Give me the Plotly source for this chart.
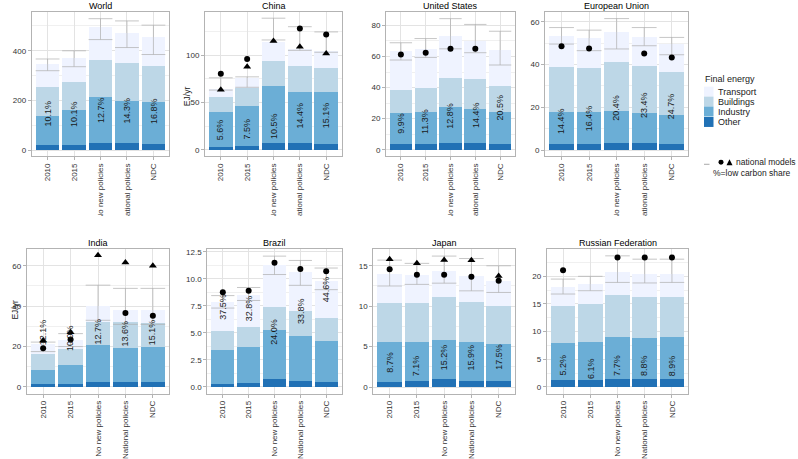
import plotly.graph_objects as go

# ---------------- data ----------------
categories = ["2010", "2015", "No new policies", "National policies", "NDC"]
regions = ["World", "China", "United States", "European Union",
           "India", "Brazil", "Japan", "Russian Federation"]
sectors = ["Other", "Industry", "Buildings", "Transport"]

# final energy by sector (EJ/yr), per region, order = categories
other = {
    "World": [20, 23, 31, 28, 25],
    "China": [3.2, 4.2, 7.0, 7.0, 5.9],
    "United States": [3.4, 3.4, 4.5, 4.1, 3.6],
    "European Union": [3.0, 3.0, 3.3, 3.4, 3.0],
    "India": [1.2, 1.3, 2.5, 2.5, 2.2],
    "Brazil": [0.31, 0.40, 0.74, 0.52, 0.46],
    "Japan": [0.62, 0.78, 0.95, 0.78, 0.78],
    "Russian Federation": [1.2, 1.2, 1.4, 1.4, 1.4],
}
industry = {
    "World": [120, 138, 182, 171, 168],
    "China": [36.4, 42.4, 60.7, 54.4, 55.5],
    "United States": [20.2, 20.7, 22.8, 22.1, 20.5],
    "European Union": [15.0, 14.7, 15.2, 13.8, 13.5],
    "India": [7.0, 9.4, 18.5, 16.7, 17.4],
    "Brazil": [3.13, 3.26, 4.55, 4.18, 3.81],
    "Japan": [4.92, 4.76, 4.88, 4.76, 4.52],
    "Russian Federation": [6.7, 7.0, 7.7, 7.5, 7.6],
}
buildings = {
    "World": [116, 115, 151, 153, 147],
    "China": [16.4, 18.3, 26.0, 27.3, 25.2],
    "United States": [15.0, 15.5, 19.1, 19.1, 17.0],
    "European Union": [20.7, 20.5, 22.5, 22.1, 20.2],
    "India": [8.2, 7.9, 11.0, 12.8, 12.3],
    "Brazil": [1.72, 1.87, 2.14, 2.36, 2.15],
    "Japan": [4.86, 4.86, 5.25, 5.01, 4.76],
    "Russian Federation": [6.8, 6.8, 7.6, 7.4, 7.3],
}
transport = {
    "World": [92, 96, 132, 121, 116],
    "China": [7.8, 10.5, 20.3, 17.6, 17.6],
    "United States": [24.9, 24.9, 26.8, 24.7, 23.0],
    "European Union": [14.7, 14.0, 14.3, 13.4, 12.7],
    "India": [5.0, 4.4, 8.2, 6.3, 6.4],
    "Brazil": [2.73, 2.97, 3.84, 3.54, 3.38],
    "Japan": [3.56, 3.44, 3.29, 3.20, 3.08],
    "Russian Federation": [3.4, 3.6, 4.1, 4.1, 4.1],
}
# range across models (EJ/yr)
range_low = {
    "World": [320, 336, 445, 413, 385],
    "China": [63, 66, 116, 105, 103],
    "United States": [57.7, 59.4, 64.9, 62.4, 54.5],
    "European Union": [49.6, 46.5, 47.3, 48.8, 44.6],
    "India": [17.5, 20, 33, 31, 31],
    "Brazil": [7.3, 8.0, 10.4, 9.4, 9.0],
    "Japan": [12.5, 12.7, 12.85, 11.9, 11.7],
    "Russian Federation": [16.8, 17.4, 18.9, 18.8, 18.9],
}
range_high = {
    "World": [367, 400, 529, 520, 503],
    "China": [76, 77, 139, 130, 124.5],
    "United States": [68.8, 71.5, 84.3, 80.6, 76.2],
    "European Union": [57.3, 56.1, 61.5, 57.3, 52.7],
    "India": [22.2, 26.4, 50.4, 48.8, 48.8],
    "Brazil": [8.45, 9.2, 12.1, 11.7, 11.0],
    "Japan": [15.7, 15.3, 16.2, 15.9, 15.0],
    "Russian Federation": [19.5, 20.0, 23.7, 23.1, 23.1],
}
# national models (circle / triangle)
national_circle = {
    "World": [None] * 5,
    "China": [80.3, 95.8, None, 128, 121.7],
    "United States": [61.3, 62.4, 64.9, 64.9, None],
    "European Union": [48.6, 47.5, None, 45.2, 43.3],
    "India": [19.2, 23.5, None, 36.6, 35.3],
    "Brazil": [8.75, 8.9, 11.5, 10.9, 10.7],
    "Japan": [14.58, 13.88, 13.88, 13.63, 13.14],
    "Russian Federation": [21.1, None, 23.4, 23.4, 23.4],
}
national_triangle = {
    "World": [None] * 5,
    "China": [63.5, 87.7, 115, 108.7, 101.7],
    "United States": [None] * 5,
    "European Union": [None] * 5,
    "India": [23, 27.1, 65.2, 61.6, 60],
    "Brazil": [None] * 5,
    "Japan": [15.81, 15.32, 15.73, 15.69, 13.75],
    "Russian Federation": [None] * 5,
}
# low carbon share (%)
low_carbon_share = {
    "World": [10.1, 10.1, 12.7, 14.3, 16.8],
    "China": [5.6, 7.5, 10.5, 14.4, 15.1],
    "United States": [9.9, 11.3, 12.8, 14.4, 20.5],
    "European Union": [14.4, 16.4, 20.4, 23.4, 24.7],
    "India": [12.1, 10.0, 12.7, 13.6, 15.1],
    "Brazil": [37.5, 32.8, 24.0, 33.8, 44.6],
    "Japan": [8.7, 7.1, 15.2, 15.9, 17.5],
    "Russian Federation": [5.2, 6.1, 7.7, 8.8, 8.9],
}

# ---------------- layout helpers (positions / styles) ----------------
W, H = 798, 459
def px(x): return x / W
def py(y): return 1 - y / H

panel_px = {  # left, right, top, bottom in pixels
    "World": (31.7, 169.3, 10, 155),
    "China": (205, 342, 10, 155),
    "United States": (386, 515, 10, 155),
    "European Union": (545, 688.3, 10, 155),
    "India": (26.7, 169.3, 248.3, 393.3),
    "Brazil": (207.3, 341.7, 248.3, 393.3),
    "Japan": (373.3, 515, 248.3, 393.3),
    "Russian Federation": (546.7, 688.3, 248.3, 393.3),
}
y_ranges = {
    "World": [-24, 556], "China": [-7, 145.6], "United States": [-4.2, 88.6],
    "European Union": [-2.9, 64.6], "India": [-3.3, 68.2], "Brazil": [-0.61, 12.74],
    "Japan": [-0.81, 17.05], "Russian Federation": [-1.2, 24.9],
}
y_ticks = {
    "World": ([0, 200, 400], 100), "China": ([0, 50, 100], 25),
    "United States": ([0, 20, 40, 60, 80], 10), "European Union": ([0, 20, 40, 60], 10),
    "India": ([0, 20, 40, 60], 10), "Brazil": ([0, 2.5, 5, 7.5, 10, 12.5], 1.25),
    "Japan": ([0, 5, 10, 15], 2.5), "Russian Federation": ([0, 5, 10, 15, 20], 2.5),
}
label_y = {
    "World": [146, 146, 160, 160, 160],
    "China": [21.4, 21.4, 24.5, 36, 36.6],
    "United States": [17.3, 18.3, 21.5, 22.6, 27.3],
    "European Union": [13.4, 14.9, 19.6, 21.2, 20.4],
    "India": [27.2, 24, 27.4, 26.7, 27],
    "Brazil": [7.4, 7.25, 5.07, 7.06, 9.06],
    "Japan": [3.08, 2.67, 3.7, 3.7, 3.7],
    "Russian Federation": [3.9, 3.3, 3.9, 3.9, 3.9],
}
colors = {"Other": "#2171b5", "Industry": "#6baed6",
          "Buildings": "#bdd7e7", "Transport": "#eff3ff"}
series = {"Other": other, "Industry": industry, "Buildings": buildings, "Transport": transport}
FONT = "Liberation Sans, Arial, Helvetica, sans-serif"
GRID = "#e3e3e3"
BORDER = "#b3b3b3"

fig = go.Figure()
layout = dict(
    width=W, height=H, margin=dict(l=0, r=0, t=0, b=0),
    paper_bgcolor="white", plot_bgcolor="white",
    barmode="stack", bargap=0.1, showlegend=False,
    font=dict(family=FONT, size=9, color="#1a1a1a"),
)
annotations = []
shapes = []

for i, reg in enumerate(regions):
    n = i + 1
    xa, ya = f"x{n}", f"y{n}"
    l, r, t, b = panel_px[reg]
    for s in sectors:
        fig.add_trace(go.Bar(
            x=categories, y=series[s][reg], name=s, marker=dict(color=colors[s], line=dict(width=0)),
            xaxis=xa, yaxis=ya, hoverinfo="skip"))
    lo = range_low[reg]; hi = range_high[reg]
    unit_px = (r - l) / 5.2
    fig.add_trace(go.Scatter(
        x=categories, y=lo, mode="markers",
        marker=dict(size=1, color="rgba(0,0,0,0)"),
        error_y=dict(type="data", symmetric=False,
                     array=[h - v for h, v in zip(hi, lo)], arrayminus=[0] * 5,
                     color="#adadad", thickness=0.7, width=0.45 * unit_px),
        xaxis=xa, yaxis=ya, hoverinfo="skip"))
    fig.add_trace(go.Scatter(
        x=categories, y=national_circle[reg], mode="markers",
        marker=dict(symbol="circle", size=6, color="black"),
        xaxis=xa, yaxis=ya, hoverinfo="skip"))
    fig.add_trace(go.Scatter(
        x=categories, y=national_triangle[reg], mode="markers",
        marker=dict(symbol="triangle-up", size=7, color="black"),
        xaxis=xa, yaxis=ya, hoverinfo="skip"))

    ticks, minor_step = y_ticks[reg]
    rng = y_ranges[reg]
    minor_vals = []
    v = ticks[0] + minor_step
    while v < rng[1]:
        minor_vals.append(v)
        v += 2 * minor_step
    tick_text = [f"{tv:.1f}" if reg == "Brazil" else f"{tv:g}" for tv in ticks]
    layout[f"xaxis{n}"] = dict(
        domain=[px(l), px(r)], anchor=ya, type="category",
        categoryorder="array", categoryarray=categories, range=[-0.6, 4.6],
        tickangle=-90, tickfont=dict(size=8, color="#333333"),
        showgrid=True, gridcolor=GRID, gridwidth=0.6,
        showline=True, linecolor=BORDER, linewidth=1, mirror=True,
        ticks="outside", ticklen=3, tickcolor=BORDER, zeroline=False,
    )
    layout[f"yaxis{n}"] = dict(
        domain=[py(b), py(t)], anchor=xa, range=rng,
        tickvals=ticks, ticktext=tick_text, tickfont=dict(size=8, color="#333333"),
        showgrid=True, gridcolor=GRID, gridwidth=0.6,
        minor=dict(tickvals=minor_vals, showgrid=True, gridcolor="#f0f0f0", gridwidth=0.4, ticks=""),
        showline=True, linecolor=BORDER, linewidth=1, mirror=True,
        ticks="outside", ticklen=3, tickcolor=BORDER, zeroline=False,
    )
    annotations.append(dict(
        x=px((l + r) / 2), y=py(t - 6), xref="paper", yref="paper",
        text=reg, showarrow=False, font=dict(size=9, color="black"),
        xanchor="center", yanchor="middle"))
    for k, (share, ly) in enumerate(zip(low_carbon_share[reg], label_y[reg])):
        annotations.append(dict(
            x=k, y=ly, xref=xa, yref=ya, text=f"{share:.1f}%",
            textangle=-90, showarrow=False, font=dict(size=9, color="#1a1a1a"),
            xanchor="center", yanchor="middle"))

# axis titles
annotations.append(dict(x=px(180), y=py(82.5), xref="paper", yref="paper", text="EJ/yr",
                        textangle=-90, showarrow=False, font=dict(size=8.5)))
annotations.append(dict(x=px(8), y=py(321), xref="paper", yref="paper", text="EJ/yr",
                        textangle=-90, showarrow=False, font=dict(size=8.5)))

# clip long tick labels of the top row (as in the reference)
shapes.append(dict(type="rect", xref="paper", yref="paper", x0=0, x1=px(700),
                   y0=py(236), y1=py(215), fillcolor="white", line=dict(width=0), layer="above"))

# legend
annotations.append(dict(x=px(703), y=py(77), xref="paper", yref="paper", text="Final energy",
                        showarrow=False, xanchor="left", yanchor="middle", font=dict(size=9)))
for k, (s, yy) in enumerate(zip(["Transport", "Buildings", "Industry", "Other"], [90, 100, 110, 120.5])):
    shapes.append(dict(type="rect", xref="paper", yref="paper",
                       x0=px(704), x1=px(713.5), y0=py(yy + 5), y1=py(yy - 5),
                       fillcolor=colors[s], line=dict(width=0)))
    annotations.append(dict(x=px(715.5), y=py(yy), xref="paper", yref="paper", text=s,
                            showarrow=False, xanchor="left", yanchor="middle", font=dict(size=9)))
shapes.append(dict(type="line", xref="paper", yref="paper", x0=px(704), x1=px(709.5),
                   y0=py(163), y1=py(163), line=dict(color="#a9a9a9", width=1)))
shapes.append(dict(type="circle", xref="paper", yref="paper", x0=px(718.5), x1=px(723.5),
                   y0=py(163.5), y1=py(158.5), fillcolor="black", line=dict(width=0)))
shapes.append(dict(type="path", xref="paper", yref="paper",
                   path=f"M {px(726.5)} {py(164)} L {px(732.5)} {py(164)} L {px(729.5)} {py(158)} Z",
                   fillcolor="black", line=dict(width=0)))
annotations.append(dict(x=px(733.5), y=py(161), xref="paper", yref="paper", text="national models",
                        showarrow=False, xanchor="left", yanchor="middle", font=dict(size=8.5)))
annotations.append(dict(x=px(711), y=py(172), xref="paper", yref="paper", text="%=low carbon share",
                        showarrow=False, xanchor="left", yanchor="middle", font=dict(size=8.5)))

layout["annotations"] = annotations
layout["shapes"] = shapes
fig.update_layout(**layout)
fig.write_html("out.html", config={"displayModeBar": False},
               post_script="document.body.style.margin='0px';document.body.style.padding='0px';")
